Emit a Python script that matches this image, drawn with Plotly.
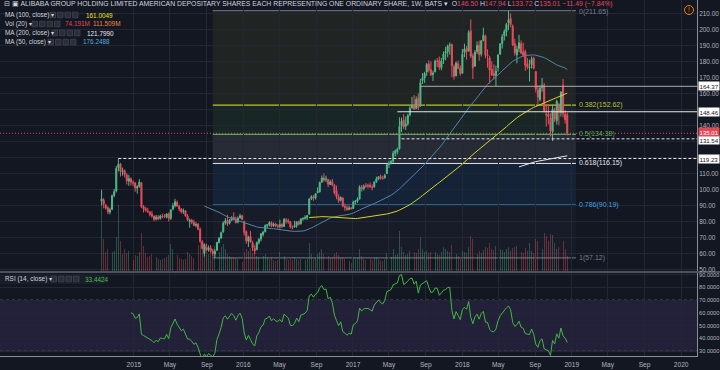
import pandas as pd
import numpy as np
import plotly.graph_objects as go

# ---------------- data (weekly bars, BABA, BATS) ----------------
open_2014 = [92.7, 93.2, 90.0, 88.5, 85.7, 87.5, 96.2, 98.9, 113.5, 116.0, 111.0, 111.6, 109.0, 105.0, 106.5, 104.3]
high_2014 = [99.7, 94.5, 90.9, 89.3, 88.5, 96.8, 100.2, 114.6, 119.2, 116.5, 113.6, 112.5, 110.0, 109.0, 107.5, 105.7]
low_2014 = [89.9, 88.1, 87.3, 84.5, 84.3, 87.0, 95.0, 98.0, 111.2, 108.0, 108.5, 107.4, 103.0, 102.2, 102.4, 102.1]
close_2014 = [93.9, 90.6, 88.1, 85.9, 87.2, 96.0, 98.6, 113.0, 115.5, 111.2, 111.6, 109.2, 105.3, 106.7, 104.5, 103.9]
vol_2014 = [380, 160, 95, 110, 75, 95, 100, 170, 330, 150, 85, 110, 90, 100, 65, 55]

open_2015 = [103.9, 100.8, 101.8, 104.0, 89.3, 87.9, 86.5, 85.9, 84.5, 83.3, 81.4, 82.7, 81.8, 83.2, 83.0, 82.6, 84.6, 81.8, 87.5, 89.7, 91.8, 89.3, 87.7, 86.0, 86.6, 83.3, 79.8, 80.6, 79.4, 77.4, 78.2, 75.0, 67.4, 60.0, 64.0, 62.2, 63.5, 61.3, 59.5, 61.9, 66.8, 69.5, 73.5, 79.0, 80.5, 78.7, 80.6, 82.5, 81.5, 79.5, 82.2, 83.5]
high_2015 = [104.6, 102.7, 106.3, 104.5, 90.1, 89.0, 88.4, 86.0, 86.6, 83.5, 84.0, 83.9, 84.1, 84.8, 84.5, 85.0, 85.5, 87.5, 91.4, 94.0, 93.0, 90.3, 88.2, 88.0, 86.9, 84.6, 81.7, 81.6, 81.0, 79.5, 78.9, 76.2, 68.2, 66.2, 66.0, 64.9, 65.1, 62.8, 62.6, 67.2, 70.2, 73.6, 80.0, 82.0, 84.1, 81.4, 83.1, 85.6, 82.9, 83.0, 84.7, 84.0]
low_2015 = [98.5, 97.3, 101.0, 88.4, 85.5, 86.1, 85.5, 83.0, 82.3, 80.0, 80.5, 80.7, 81.0, 81.8, 82.0, 81.9, 79.9, 80.8, 86.9, 88.6, 88.9, 86.3, 84.9, 84.6, 82.9, 80.1, 76.0, 78.2, 76.9, 76.2, 74.4, 66.5, 62.5, 58.0, 61.3, 61.0, 60.3, 58.5, 57.12, 61.5, 66.2, 68.9, 72.8, 77.8, 77.0, 78.0, 80.0, 80.6, 78.6, 78.7, 81.6, 80.6]
close_2015 = [101.0, 101.6, 104.6, 89.1, 87.8, 86.7, 85.9, 84.3, 83.2, 81.3, 82.6, 81.4, 83.2, 82.9, 82.6, 84.6, 81.9, 87.1, 89.7, 92.2, 89.5, 87.7, 85.9, 86.6, 83.3, 80.8, 80.6, 79.4, 77.5, 78.0, 75.0, 67.5, 63.0, 65.5, 62.0, 63.4, 61.5, 60.0, 61.3, 66.8, 69.5, 72.9, 78.9, 80.3, 78.5, 80.6, 82.4, 81.4, 79.2, 81.9, 83.5, 81.3]
vol_2015 = [80, 75, 95, 190, 125, 90, 70, 75, 85, 80, 70, 60, 55, 60, 65, 70, 80, 135, 110, 95, 80, 65, 60, 55, 60, 95, 85, 75, 65, 80, 130, 140, 150, 110, 95, 85, 90, 105, 125, 95, 95, 120, 135, 110, 85, 75, 70, 70, 65, 60, 55, 45]

open_2016 = [80.0, 73.5, 67.5, 70.5, 66.5, 62.9, 62.5, 66.8, 69.0, 71.7, 73.5, 77.2, 78.0, 79.2, 77.3, 78.3, 77.1, 76.8, 78.0, 76.7, 81.0, 80.4, 79.7, 76.4, 76.5, 77.3, 79.8, 78.4, 81.4, 81.8, 82.2, 84.4, 94.3, 95.3, 94.5, 97.9, 98.4, 104.5, 107.2, 106.2, 106.0, 103.0, 104.8, 102.5, 99.0, 95.0, 93.2, 94.6, 89.3, 88.5, 87.5, 88.3]
high_2016 = [80.1, 74.3, 71.0, 74.0, 67.8, 65.0, 67.4, 69.6, 72.7, 74.1, 78.0, 78.4, 80.0, 80.0, 79.2, 78.9, 78.3, 81.0, 79.0, 82.1, 82.0, 81.6, 80.0, 77.4, 80.3, 80.1, 80.4, 81.9, 82.6, 83.7, 84.0, 94.5, 96.3, 96.4, 97.6, 101.2, 104.8, 108.6, 109.9, 108.5, 106.6, 105.9, 106.5, 103.4, 102.3, 96.9, 95.7, 95.0, 91.0, 90.0, 89.7, 89.0]
low_2016 = [71.1, 66.0, 64.0, 66.7, 61.4, 59.3, 61.8, 65.6, 67.5, 70.5, 73.0, 75.8, 76.7, 76.3, 76.4, 76.3, 75.6, 75.4, 75.8, 76.5, 78.6, 78.5, 75.5, 74.9, 76.0, 75.9, 77.4, 78.0, 80.4, 81.0, 80.8, 84.1, 93.3, 92.8, 93.6, 97.5, 98.0, 104.0, 104.8, 104.6, 101.3, 102.6, 101.9, 96.7, 93.8, 91.6, 92.4, 88.7, 86.5, 86.6, 86.9, 87.5]
close_2016 = [73.1, 67.8, 70.3, 67.0, 63.5, 61.4, 66.7, 68.7, 72.2, 73.3, 77.4, 77.9, 79.4, 76.9, 78.3, 77.1, 76.9, 77.9, 76.8, 81.1, 80.4, 79.5, 76.4, 76.2, 77.3, 79.6, 78.2, 81.5, 81.7, 82.4, 83.6, 93.9, 95.4, 94.4, 97.2, 98.7, 104.3, 107.1, 105.8, 106.4, 103.2, 104.6, 102.7, 97.9, 95.4, 92.9, 94.9, 89.5, 88.7, 87.4, 88.3, 87.8]
vol_2016 = [95, 110, 100, 115, 90, 100, 75, 70, 80, 75, 85, 70, 60, 70, 55, 50, 55, 95, 80, 75, 60, 55, 60, 55, 70, 60, 55, 60, 50, 55, 60, 140, 85, 60, 70, 85, 95, 110, 85, 70, 75, 65, 70, 85, 95, 80, 65, 70, 60, 55, 50, 40]

open_2017 = [88.0, 92.0, 92.6, 94.0, 101.1, 100.5, 102.3, 102.4, 102.5, 101.5, 101.6, 104.7, 106.4, 108.0, 107.0, 107.1, 109.8, 115.5, 116.5, 117.6, 122.6, 123.6, 125.3, 139.7, 143.3, 139.5, 141.0, 146.5, 151.0, 153.0, 150.5, 157.0, 152.0, 168.0, 169.5, 173.3, 178.3, 174.8, 171.7, 173.4, 180.0, 180.5, 176.0, 181.0, 185.0, 185.9, 190.0, 190.5, 176.6, 171.0, 178.5, 175.6]
high_2017 = [92.9, 93.4, 95.0, 102.5, 102.7, 103.0, 103.9, 103.5, 104.2, 103.0, 105.0, 107.9, 108.3, 109.1, 108.5, 109.6, 116.0, 117.8, 118.3, 124.0, 124.9, 126.0, 145.0, 144.8, 147.0, 145.5, 147.2, 152.0, 157.8, 158.9, 158.1, 160.0, 169.0, 172.6, 173.4, 178.9, 180.6, 180.0, 174.1, 181.0, 182.0, 183.0, 182.1, 186.2, 189.0, 190.5, 191.8, 191.0, 178.0, 179.9, 180.5, 177.4]
low_2017 = [87.8, 90.6, 91.5, 93.6, 98.5, 99.2, 101.0, 100.5, 100.8, 99.4, 101.0, 104.0, 105.8, 106.0, 106.0, 106.8, 109.5, 113.3, 115.4, 116.5, 120.5, 121.8, 124.8, 135.9, 137.5, 137.0, 139.7, 145.5, 150.3, 149.5, 150.0, 149.6, 151.5, 165.9, 166.5, 170.9, 173.0, 170.7, 167.7, 173.1, 176.5, 174.5, 174.4, 178.3, 180.6, 182.5, 184.2, 170.0, 168.5, 170.5, 175.0, 171.0]
close_2017 = [92.0, 92.6, 93.9, 101.5, 100.3, 101.9, 102.0, 102.1, 101.7, 101.2, 104.6, 106.4, 107.8, 107.1, 106.7, 108.6, 115.5, 116.3, 117.4, 122.5, 123.9, 125.0, 139.2, 142.6, 139.0, 140.9, 146.1, 150.7, 152.5, 150.2, 156.2, 151.0, 166.6, 169.5, 172.4, 178.0, 174.5, 171.6, 172.7, 180.1, 180.0, 176.3, 180.1, 184.5, 186.0, 189.6, 190.2, 177.2, 170.6, 178.9, 175.7, 172.4]
vol_2017 = [70, 60, 65, 110, 75, 60, 55, 55, 60, 55, 65, 70, 60, 55, 50, 60, 90, 75, 70, 110, 80, 85, 200, 120, 95, 80, 85, 100, 115, 95, 90, 110, 170, 110, 95, 100, 90, 95, 85, 95, 85, 80, 95, 120, 110, 100, 95, 130, 110, 85, 75, 60]

open_2018 = [172.5, 185.5, 188.0, 186.5, 199.0, 183.5, 177.0, 186.0, 190.0, 184.5, 193.0, 195.8, 184.0, 182.0, 175.0, 172.4, 171.0, 176.0, 184.5, 191.0, 196.0, 198.5, 204.0, 206.8, 202.0, 191.0, 184.0, 188.0, 191.0, 186.0, 186.0, 178.5, 175.9, 178.0, 182.0, 173.5, 162.0, 156.0, 163.5, 165.0, 147.0, 147.0, 144.5, 136.0, 149.0, 143.0, 153.0, 148.0, 165.0, 147.0, 146.5]
high_2018 = [187.7, 191.0, 189.7, 199.5, 206.2, 185.0, 187.0, 192.4, 192.9, 193.3, 201.0, 196.7, 187.5, 183.4, 180.0, 178.0, 177.3, 184.3, 191.4, 197.0, 200.0, 204.0, 211.65, 210.0, 203.0, 194.0, 189.8, 196.5, 193.0, 191.6, 187.3, 182.0, 181.0, 183.0, 182.8, 174.0, 165.0, 165.0, 169.6, 166.5, 153.0, 153.3, 147.5, 153.0, 151.0, 156.0, 154.0, 161.0, 169.0, 149.5, 147.94]
low_2018 = [172.4, 182.5, 181.0, 186.0, 182.0, 168.9, 176.5, 184.6, 180.4, 183.0, 192.5, 181.9, 176.0, 166.0, 170.8, 168.6, 164.4, 173.6, 183.9, 188.0, 193.0, 195.6, 199.5, 201.3, 189.5, 183.5, 178.7, 185.7, 184.8, 182.5, 174.0, 175.0, 167.4, 175.5, 175.0, 160.5, 153.0, 155.0, 161.0, 148.0, 139.2, 140.6, 133.0, 130.1, 142.0, 140.5, 140.0, 145.5, 145.0, 141.0, 133.72]
close_2018 = [184.3, 187.7, 186.0, 198.0, 183.2, 176.0, 185.6, 189.8, 184.2, 192.8, 196.3, 183.8, 183.5, 174.5, 171.4, 171.1, 174.0, 184.0, 190.8, 195.3, 198.7, 203.0, 206.0, 202.8, 190.2, 185.5, 187.5, 191.6, 185.0, 183.8, 177.5, 176.5, 176.4, 181.2, 175.7, 162.5, 157.6, 163.3, 164.8, 149.1, 146.5, 145.5, 136.5, 150.0, 144.0, 155.0, 148.0, 160.9, 147.5, 143.5, 135.01]
vol_2018 = [100, 95, 90, 120, 175, 160, 95, 85, 100, 90, 105, 120, 115, 140, 110, 105, 125, 130, 110, 105, 95, 110, 120, 100, 115, 120, 125, 110, 95, 90, 115, 100, 140, 100, 90, 160, 150, 120, 110, 190, 175, 150, 185, 180, 140, 110, 120, 125, 150, 110, 74]

first_week = "2014-09-15"

# Fibonacci retracement (drawn by user)
fib_high = 211.65
fib_low = 57.12
fib_ratios = [0, 0.382, 0.5, 0.618, 0.786, 1]
fib_start = "2015-09-21"
fib_end = "2019-01-15"

# user horizontal lines: (price, start date, dashed)
hline_prices = [164.37, 148.46, 131.54, 119.23]
hline_starts = ["2017-08-14", "2017-05-29", "2017-06-12", "2014-11-10"]
hline_dashed = [False, False, True, True]
last_price = 135.01

price_ticks = [50, 60, 70, 80, 90, 100, 110, 120, 130, 140, 150, 160, 170, 180, 190, 200, 210]
price_hidden = [120, 130, 150]
rsi_ticks = [30, 40, 50, 60, 70, 80, 90]
time_tick_dates = ["2015-01-01", "2015-05-01", "2015-09-01", "2016-01-01", "2016-05-01", "2016-09-01",
                   "2017-01-01", "2017-05-01", "2017-09-01", "2018-01-01", "2018-05-01", "2018-09-01",
                   "2019-01-01", "2019-05-01", "2019-09-01", "2020-01-01"]
time_tick_text = ["2015", "May", "Sep", "2016", "May", "Sep", "2017", "May", "Sep", "2018", "May", "Sep",
                  "2019", "May", "Sep", "2020"]

# ---------------- assemble ----------------
opens = open_2014 + open_2015 + open_2016 + open_2017 + open_2018
highs = high_2014 + high_2015 + high_2016 + high_2017 + high_2018
lows = low_2014 + low_2015 + low_2016 + low_2017 + low_2018
closes = close_2014 + close_2015 + close_2016 + close_2017 + close_2018
vols = vol_2014 + vol_2015 + vol_2016 + vol_2017 + vol_2018
n = len(closes)
dates = pd.date_range(first_week, periods=n, freq="W-MON")

close_s = pd.Series(closes, dtype=float)
ma50 = close_s.rolling(50).mean()
ma100 = close_s.rolling(100).mean()
ma200 = close_s.rolling(200).mean()

def rma(vals, p):
    out = np.full(len(vals), np.nan)
    out[p] = np.mean(vals[1:p + 1])
    for i in range(p + 1, len(vals)):
        out[i] = (out[i - 1] * (p - 1) + vals[i]) / p
    return out

delta = close_s.diff().fillna(0).values
gain = rma(np.clip(delta, 0, None), 14)
loss = rma(np.clip(-delta, 0, None), 14)
rsi = 100 - 100 / (1 + gain / loss)

UP = "#53b987"
DOWN = "#eb4d5c"
BG = "#131722"
GRID = "#232734"
TXT = "#b2b5be"
FONT = "Liberation Sans Narrow, Liberation Sans, Arial, sans-serif"

x_left = "2013-10-11"
x_right = "2020-02-23"

W, H = 697.0, 356.0
def px(v):
    return v / W
def py(v):
    return 1 - v / H

fig = go.Figure()

vol_colors = ["rgba(83,185,135,0.35)" if c >= o else "rgba(235,77,92,0.38)" for o, c in zip(opens, closes)]
fig.add_trace(go.Bar(x=dates, y=vols, marker=dict(color=vol_colors, line=dict(width=0)),
                     width=3.0 * 86400000, yaxis="y3", xaxis="x", hoverinfo="skip"))

fig.add_trace(go.Candlestick(x=dates, open=opens, high=highs, low=lows, close=closes,
                             increasing=dict(line=dict(color=UP, width=1), fillcolor=UP),
                             decreasing=dict(line=dict(color=DOWN, width=1), fillcolor=DOWN),
                             whiskerwidth=0, xaxis="x", yaxis="y", hoverinfo="skip"))

fig.add_trace(go.Scatter(x=dates, y=ma50, mode="lines", line=dict(color="#4f86a8", width=1),
                         xaxis="x", yaxis="y", hoverinfo="skip"))
fig.add_trace(go.Scatter(x=dates, y=ma100, mode="lines", line=dict(color="#d4d42a", width=1),
                         xaxis="x", yaxis="y", hoverinfo="skip"))
fig.add_trace(go.Scatter(x=dates, y=ma200, mode="lines", line=dict(color="#e6e6e6", width=1),
                         xaxis="x", yaxis="y", hoverinfo="skip"))

fig.add_trace(go.Scatter(x=dates, y=rsi, mode="lines", line=dict(color="#45b545", width=1),
                         xaxis="x", yaxis="y2", hoverinfo="skip"))

shapes = []
annotations = []

# fib bands and lines
fib_levels = [fib_high - r * (fib_high - fib_low) for r in fib_ratios]
band_fills = ["rgba(190,200,60,0.08)", "rgba(76,175,80,0.10)", "rgba(209,212,220,0.11)",
              "rgba(33,150,243,0.10)", "rgba(120,123,134,0.06)"]
line_cols = ["#787b86", "#b7c431", "#4caf50", "#e0e3eb", "#3ea0e0", "#787b86"]
for i in range(len(fib_levels) - 1):
    shapes.append(dict(type="rect", xref="x", yref="y", x0=fib_start, x1=fib_end,
                       y0=fib_levels[i + 1], y1=fib_levels[i], fillcolor=band_fills[i],
                       line=dict(width=0), layer="below"))
for r, lv, col in zip(fib_ratios, fib_levels, line_cols):
    shapes.append(dict(type="line", xref="x", yref="y", x0=fib_start, x1=fib_end, y0=lv, y1=lv,
                       line=dict(color=col, width=1.2 if r in (0.382, 0.5) else 1), layer="below"))
    annotations.append(dict(xref="x", yref="y", x=fib_end, y=lv, xanchor="left", yanchor="middle",
                            xshift=1, yshift=(-1 if r == 0 else 0), text="%g(%.2f)" % (r, lv), showarrow=False,
                            font=dict(size=7, color=col, family=FONT)))

# user horizontal lines
label_shift = {164.37: 0, 148.46: 0, 131.54: -1.5, 119.23: 0}
for p, s, d in zip(hline_prices, hline_starts, hline_dashed):
    shapes.append(dict(type="line", xref="x", yref="y", x0=s, x1=x_right, y0=p, y1=p,
                       line=dict(color="#e8e8e8" if p != 164.37 else "#a9acb5", width=1,
                                 dash="3px,2px" if d else "solid")))
    annotations.append(dict(xref="paper", yref="y", x=1, y=p, xanchor="left", yanchor="middle",
                            xshift=1, yshift=label_shift[p], text="%.2f" % p, showarrow=False,
                            bgcolor="#ffffff", borderpad=0.5,
                            font=dict(size=6.1, color="#131722", family=FONT)))
# last price line
shapes.append(dict(type="line", xref="x", yref="y", x0=x_left, x1=x_right, y0=last_price, y1=last_price,
                   line=dict(color="#e04856", width=1, dash="1px,2px")))
annotations.append(dict(xref="paper", yref="y", x=1, y=last_price, xanchor="left", yanchor="middle",
                        xshift=1, yshift=1, text="%.2f" % last_price, showarrow=False, bgcolor="#e04856",
                        borderpad=0.5, font=dict(size=6.1, color="#ffffff", family=FONT)))

# RSI band and bounds
shapes.append(dict(type="rect", xref="paper", yref="y2", x0=0, x1=1, y0=30, y1=70,
                   fillcolor="rgba(126,87,194,0.15)", line=dict(width=0), layer="below"))
for lv in (30, 70):
    shapes.append(dict(type="line", xref="paper", yref="y2", x0=0, x1=1, y0=lv, y1=lv,
                       line=dict(color="rgba(200,200,210,0.6)", width=1, dash="3px,3px"), layer="below"))

# pane separator
shapes.append(dict(type="line", xref="paper", yref="paper", x0=0, x1=1.033, y0=py(272), y1=py(272),
                   line=dict(color="#8a8d96", width=1)))

# title
title = ("⊟ ▣ ALIBABA GROUP HOLDING LIMITED AMERICAN DEPOSITARY SHARES EACH REPRESENTING ONE "
         "ORDINARY SHARE, 1W, BATS ▾  O<span style='color:#e04856'>146.50</span> "
         "H<span style='color:#e04856'>147.94</span> L<span style='color:#e04856'>133.72</span> "
         "C<span style='color:#e04856'>135.01</span> <span style='color:#e04856'>−11.49 (−7.84%)</span>")
annotations.append(dict(xref="paper", yref="paper", x=px(2), y=py(4.5), xanchor="left", yanchor="middle",
                        text=title, showarrow=False, font=dict(size=6.85, color="#d1d4dc", family=FONT)))

# indicator legends
legend_rows = [("MA (100, close) ▾", 15, [("161.0049", "#e5e52a", 84)]),
               ("Vol (20) ▾", 24, [("74.191M", "#e04856", 63), ("111.509M", "#f0883e", 91)]),
               ("MA (200, close) ▾", 33, [("121.7990", "#e8e8e8", 85)]),
               ("MA (50, close) ▾", 42, [("176.2488", "#5aa6dc", 81)])]
icon_x = {15: 50, 24: 32, 33: 52, 42: 48}
for name, yy, vals in legend_rows:
    annotations.append(dict(xref="paper", yref="paper", x=px(3), y=py(yy), xanchor="left", yanchor="middle",
                            text=name, showarrow=False, font=dict(size=6.4, color="#d1d4dc", family=FONT)))
    for k in range(4):
        x0 = icon_x[yy] + k * 7.5
        shapes.append(dict(type="rect", xref="paper", yref="paper", x0=px(x0), x1=px(x0 + 5.5),
                           y0=py(yy + 2.8), y1=py(yy - 2.8), fillcolor="#2a2e39",
                           line=dict(color="#4a4e5a", width=0.6)))
    for txt, col, xx in vals:
        annotations.append(dict(xref="paper", yref="paper", x=px(xx), y=py(yy), xanchor="left",
                                yanchor="middle", text=txt, showarrow=False,
                                font=dict(size=6.4, color=col, family=FONT)))

# RSI legend
shapes.append(dict(type="rect", xref="paper", yref="paper", x0=0, x1=px(106), y0=py(284), y1=py(274),
                   fillcolor="#1a1e2a", line=dict(width=0)))
annotations.append(dict(xref="paper", yref="paper", x=px(3), y=py(279), xanchor="left", yanchor="middle",
                        text="RSI (14, close) ▾", showarrow=False,
                        font=dict(size=6.4, color="#d1d4dc", family=FONT)))
for k in range(4):
    x0 = 51 + k * 7.5
    shapes.append(dict(type="rect", xref="paper", yref="paper", x0=px(x0), x1=px(x0 + 5.5),
                       y0=py(281.8), y1=py(276.2), fillcolor="#2a2e39", line=dict(color="#4a4e5a", width=0.6)))
annotations.append(dict(xref="paper", yref="paper", x=px(83), y=py(279), xanchor="left", yanchor="middle",
                        text="33.4424", showarrow=False, font=dict(size=6.4, color="#45c045", family=FONT)))

# alert icon
shapes.append(dict(type="circle", xref="paper", yref="paper", x0=px(684.5), x1=px(693.5), y0=py(14.5),
                   y1=py(5.5), line=dict(color="#f57c00", width=1)))
annotations.append(dict(xref="paper", yref="paper", x=px(689), y=py(10), xanchor="center", yanchor="middle",
                        text="!", showarrow=False, font=dict(size=6.5, color="#f57c00", family=FONT)))

fig.update_layout(
    width=720, height=370,
    margin=dict(l=0, r=23, t=0, b=14),
    paper_bgcolor=BG, plot_bgcolor=BG,
    showlegend=False,
    hovermode=False,
    bargap=0,
    font=dict(family=FONT, color=TXT, size=6.5),
    xaxis=dict(type="date", range=[x_left, x_right], anchor="y2", domain=[0, 1],
               tickvals=time_tick_dates, ticktext=time_tick_text, tickfont=dict(size=6.6, color=TXT),
               showgrid=True, gridcolor=GRID, gridwidth=1, zeroline=False,
               showline=True, linecolor="#8a8d96", linewidth=1, ticks="", ticklen=0,
               ticklabelstandoff=2,
               rangeslider=dict(visible=False), fixedrange=True, automargin=False),
    yaxis=dict(domain=[1 - 271 / 356.0, 1], range=[48.94, 218.31], side="right", anchor="x",
               tickvals=price_ticks,
               ticktext=["" if t in price_hidden else "%.2f" % t for t in price_ticks],
               tickfont=dict(size=6.4, color=TXT), showgrid=True, gridcolor=GRID, zeroline=False,
               showline=True, linecolor="#8a8d96", linewidth=1, ticks="", fixedrange=True, automargin=False),
    yaxis2=dict(domain=[0, (356 - 273) / 356.0], range=[26.32, 91.33], side="right", anchor="x",
                tickvals=rsi_ticks, ticktext=["%.4f" % t for t in rsi_ticks],
                tickfont=dict(size=5.6, color=TXT), showgrid=True, gridcolor=GRID, zeroline=False,
                showline=True, linecolor="#8a8d96", linewidth=1, ticks="", fixedrange=True, automargin=False),
    yaxis3=dict(overlaying="y", range=[0, 1355], visible=False, fixedrange=True),
    shapes=shapes,
    annotations=annotations,
)

fig.write_html("out.html", config={"displayModeBar": False},
               post_script="document.body.style.margin='0';document.body.style.padding='0';"
                           "document.body.style.background='#131722';")
